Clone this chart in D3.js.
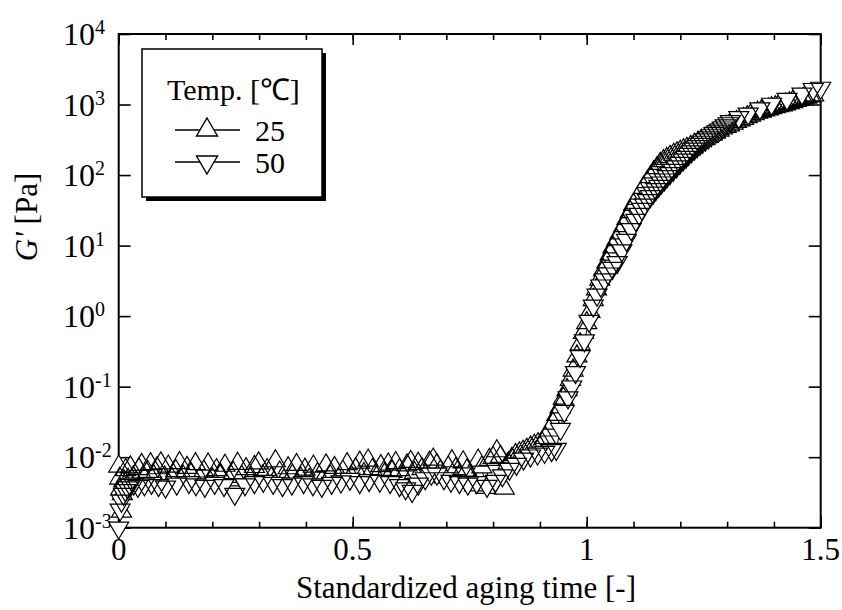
<!DOCTYPE html>
<html><head><meta charset="utf-8">
<script src="https://cdn.jsdelivr.net/npm/d3@7"></script>
<style>
html,body{margin:0;padding:0;background:#fff;}
</style></head>
<body><svg id="c" width="842" height="610"></svg>
<script>
// ---------- data ----------
const seriesNames = ["25", "50"];
const legendTitle = "Temp. [℃]";
const xTitle = "Standardized aging time [-]";
const xTickValues = [0, 0.5, 1, 1.5];
const xTickLabels = ["0", "0.5", "1", "1.5"];
const xMinorTicks = [0,0.1,0.2,0.3,0.4,0.5,0.6,0.7,0.8,0.9,1.0,1.1,1.2,1.3,1.4,1.5];
const yExponents = [-3,-2,-1,0,1,2,3,4];

const t25 = [0.000,0.002,0.004,0.006,0.008,0.011,0.015,0.020,0.025,0.031,0.037,0.043,0.049,0.055,0.062,0.068,0.075,0.082,0.090,0.098,
0.106,0.114,0.122,0.130,0.138,0.146,0.155,0.164,0.173,0.182,0.191,0.200,0.209,0.218,0.227,0.236,0.245,0.254,0.263,0.272,
0.281,0.290,0.299,0.308,0.317,0.326,0.335,0.344,0.353,0.362,0.371,0.380,0.389,0.398,0.407,0.416,0.425,0.434,0.443,0.452,
0.461,0.470,0.479,0.488,0.497,0.506,0.515,0.524,0.533,0.542,0.551,0.560,0.568,0.576,0.584,0.592,0.600,0.608,0.616,0.624,
0.632,0.640,0.648,0.656,0.664,0.672,0.680,0.688,0.696,0.704,0.712,0.720,0.728,0.736,0.744,0.752,0.760,0.768,0.776,0.784,
0.792,0.800,0.808,0.816,0.824,0.832,0.840,0.848,0.856,0.864,0.872,0.880,0.888,0.896,0.904,0.912,0.920,0.928,0.936,0.943,
0.950,0.958,0.965,0.971,0.979,0.986,0.993,1.000,1.007,1.014,1.021,1.028,1.036,1.043,1.050,1.056,1.064,1.071,1.079,1.086,
1.093,1.100,1.107,1.114,1.121,1.129,1.136,1.143,1.150,1.157,1.164,1.171,1.178,1.186,1.193,1.200,1.207,1.214,1.222,1.230,
1.238,1.245,1.253,1.260,1.268,1.275,1.283,1.290,1.298,1.305,1.313,1.320,1.328,1.335,1.343,1.350,1.358,1.365,1.373,1.380,
1.388,1.395,1.403,1.410,1.418,1.425,1.433,1.440,1.448,1.455,1.463,1.470,1.478,1.485];
const g25 = [0.0074,0.0050,0.0035,0.0017,0.0030,0.0046,0.0066,0.0048,0.0072,0.0052,0.0044,0.0068,0.0078,0.0050,0.0062,0.0080,0.0054,0.0070,0.0082,0.0052,
0.0074,0.0049,0.0064,0.0083,0.0053,0.0071,0.0058,0.0080,0.0050,0.0063,0.0079,0.0049,0.0066,0.0056,0.0076,0.0047,0.0060,0.0081,0.0053,0.0068,
0.0049,0.0073,0.0082,0.0054,0.0066,0.0050,0.0088,0.0061,0.0047,0.0070,0.0055,0.0078,0.0050,0.0067,0.0048,0.0074,0.0058,0.0046,0.0077,0.0054,
0.0071,0.0049,0.0063,0.0080,0.0053,0.0068,0.0084,0.0058,0.0090,0.0066,0.0052,0.0075,0.0057,0.0079,0.0062,0.0083,0.0066,0.0054,0.0077,0.0086,
0.0060,0.0081,0.0068,0.0056,0.0084,0.0093,0.0078,0.0064,0.0052,0.0072,0.0088,0.0068,0.0055,0.0085,0.0065,0.0048,0.0040,0.0090,0.0072,0.0037,
0.0092,0.0098,0.0122,0.0102,0.0036,0.0082,0.0095,0.0108,0.0114,0.0120,0.0128,0.0138,0.0146,0.0154,0.0162,0.0188,0.024,0.030,0.040,0.051,
0.068,0.090,0.125,0.17,0.27,0.40,0.58,0.80,1.15,1.7,2.4,3.3,4.5,5.8,7.5,9.5,12,15,19,24,
30,38,46,55,66,80,94,110,126,145,158,170,182,195,205,215,226,236,252,270,
290,310,330,350,375,400,430,460,485,510,540,570,600,630,665,700,735,770,800,830,
860,890,920,950,980,1010,1050,1090,1130,1170,1215,1260,1310,1360];

const t50 = [0.000,0.003,0.006,0.010,0.014,0.019,0.025,0.032,0.041,0.055,0.070,0.085,0.100,0.124,0.150,0.165,0.184,0.205,0.225,0.248,
0.270,0.290,0.309,0.330,0.350,0.370,0.395,0.415,0.434,0.455,0.475,0.494,0.515,0.535,0.558,0.580,0.600,0.613,0.627,0.640,
0.655,0.668,0.680,0.695,0.710,0.728,0.746,0.765,0.787,0.805,0.820,0.835,0.850,0.865,0.880,0.895,0.910,0.925,0.935,0.944,
0.952,0.960,0.968,0.976,0.986,0.995,1.005,1.014,1.022,1.030,1.038,1.046,1.055,1.065,1.075,1.085,1.095,1.105,1.112,1.118,
1.124,1.130,1.136,1.142,1.148,1.154,1.160,1.166,1.172,1.178,1.185,1.192,1.199,1.206,1.212,1.218,1.224,1.230,1.236,1.242,
1.248,1.254,1.260,1.266,1.272,1.278,1.284,1.290,1.296,1.302,1.307,1.325,1.345,1.370,1.395,1.428,1.460,1.484,1.500];
const g50 = [0.0010,0.0018,0.0024,0.0030,0.0034,0.0037,0.0040,0.0042,0.0039,0.0041,0.0043,0.0040,0.0038,0.0042,0.0044,0.0041,0.0039,0.0043,0.0040,0.0030,
0.0041,0.0044,0.0046,0.0043,0.0040,0.0042,0.0044,0.0041,0.0039,0.0043,0.0045,0.0049,0.0044,0.0047,0.0046,0.0044,0.0040,0.0036,0.0033,0.0042,
0.0050,0.0058,0.0058,0.0050,0.0046,0.0044,0.0042,0.0044,0.0039,0.0046,0.0055,0.0068,0.0080,0.0095,0.0105,0.0112,0.0118,0.0125,0.0130,0.025,
0.045,0.070,0.10,0.16,0.27,0.45,0.85,1.4,2.0,2.7,3.3,4.0,4.8,5.8,8.5,12,17,23,28,33,
38,44,50,56,63,70,78,86,96,106,118,132,148,165,180,198,216,235,255,275,
295,318,340,365,390,415,440,470,505,540,580,660,740,880,1020,1200,1420,1650,1720];

// ---------- layout ----------
const svg = d3.select("#c");
const x = d3.scaleLinear().domain([0, 1.5]).range([118.7, 820.7]);
const y = d3.scaleLog().domain([1e-3, 1e4]).range([527.7, 34]);
const X0 = x.range()[0], X1 = x.range()[1], YB = y.range()[0], YT = y.range()[1];
const FF = "Liberation Serif";

function triPath(w, h, up, cx, cy) {
  const a = 2*h/3, b = h/3;
  cx = cx || 0; cy = cy || 0;
  return up ? `M${cx},${cy-a}L${cx+w/2},${cy+b}L${cx-w/2},${cy+b}Z`
            : `M${cx},${cy+a}L${cx+w/2},${cy-b}L${cx-w/2},${cy-b}Z`;
}

// ---------- axes ----------
const axG = svg.append("g");
function styleAxis(g) {
  g.selectAll(".domain").remove();
  g.selectAll("line").attr("stroke", "#000").attr("stroke-width", 1.6);
  g.selectAll("text").remove();
  g.attr("font-family", null).attr("font-size", null);
}
axG.append("g").attr("transform", `translate(0,${YB})`)
  .call(d3.axisBottom(x).tickValues(xMinorTicks).tickSize(-6)).call(styleAxis);
axG.append("g").attr("transform", `translate(0,${YB})`)
  .call(d3.axisBottom(x).tickValues(xTickValues).tickSize(-11)).call(styleAxis);
axG.append("g").attr("transform", `translate(0,${YT})`)
  .call(d3.axisTop(x).tickValues(xMinorTicks).tickSize(-6)).call(styleAxis);
axG.append("g").attr("transform", `translate(0,${YT})`)
  .call(d3.axisTop(x).tickValues(xTickValues).tickSize(-11)).call(styleAxis);
const yTickVals = yExponents.map(e => Math.pow(10, e));
axG.append("g").attr("transform", `translate(${X0},0)`)
  .call(d3.axisLeft(y).tickValues(yTickVals).tickSize(-12)).call(styleAxis);
axG.append("g").attr("transform", `translate(${X1},0)`)
  .call(d3.axisRight(y).tickValues(yTickVals).tickSize(-12)).call(styleAxis);
axG.append("rect").attr("x", X0).attr("y", YT).attr("width", X1 - X0).attr("height", YB - YT)
  .attr("fill", "none").attr("stroke", "#000").attr("stroke-width", 2);

// ---------- text ----------
const txt = svg.append("g");
txt.selectAll("text.xt").data(xTickValues).join("text").attr("class", "xt")
  .style("font-family", FF)
  .attr("x", d => x(d)).attr("y", 560).attr("text-anchor", "middle")
  .attr("font-size", 31).text((d, i) => xTickLabels[i]);
const yl = txt.selectAll("text.yt").data(yExponents).join("text").attr("class", "yt")
  .style("font-family", FF)
  .attr("x", 63).attr("y", d => y(Math.pow(10, d)) + 11).attr("font-size", 32);
yl.append("tspan").text("10");
yl.append("tspan").attr("font-size", 20).attr("dy", -11).text(d => String(d));
txt.append("text").style("font-family", FF).attr("x", 466).attr("y", 598).attr("text-anchor", "middle")
  .attr("font-size", 31).text(xTitle);
const ytl = txt.append("text").style("font-family", FF).attr("transform", "translate(37,217) rotate(-90)")
  .attr("text-anchor", "middle").attr("font-size", 31);
ytl.append("tspan").attr("font-style", "italic").text("G'");
ytl.append("tspan").text(" [Pa]");

// ---------- data marks (one line + one marker path per series) ----------
const series = [
  {t: t25, g: g25, up: true},
  {t: t50, g: g50, up: false}
];
const line = d3.line().x(d => x(d[0])).y(d => y(d[1]));
series.forEach(s => {
  const pts = s.t.map((t, i) => [t, s.g[i]]);
  const g = svg.append("g");
  g.append("path").attr("d", line(pts)).attr("fill", "none").attr("stroke", "#000").attr("stroke-width", 1);
  g.append("path")
    .attr("d", pts.map(d => triPath(20, 17, s.up, x(d[0]), y(d[1]))).join(""))
    .attr("fill", "#fff").attr("fill-rule", "nonzero").attr("stroke", "#000").attr("stroke-width", 1.2);
});

// ---------- legend ----------
const lg = svg.append("g");
lg.append("rect").attr("x", 146).attr("y", 53).attr("width", 180).attr("height", 148).attr("fill", "#000");
lg.append("rect").attr("x", 142).attr("y", 49).attr("width", 180).attr("height", 148)
  .attr("fill", "#fff").attr("stroke", "#000").attr("stroke-width", 1.5);
lg.append("text").style("font-family", FF).attr("x", 167).attr("y", 100).attr("font-size", 30).text(legendTitle);
const legY = [130, 162];
seriesNames.forEach((name, i) => {
  lg.append("line").attr("x1", 175).attr("x2", 240).attr("y1", legY[i]).attr("y2", legY[i])
    .attr("stroke", "#000").attr("stroke-width", 1.3);
  lg.append("path").attr("d", triPath(21, 18, i === 0, 207, legY[i]))
    .attr("fill", "#fff").attr("stroke", "#000").attr("stroke-width", 1.4);
  lg.append("text").style("font-family", FF).attr("x", 255).attr("y", legY[i] + 11).attr("font-size", 30).text(name);
});
</script></body></html>
